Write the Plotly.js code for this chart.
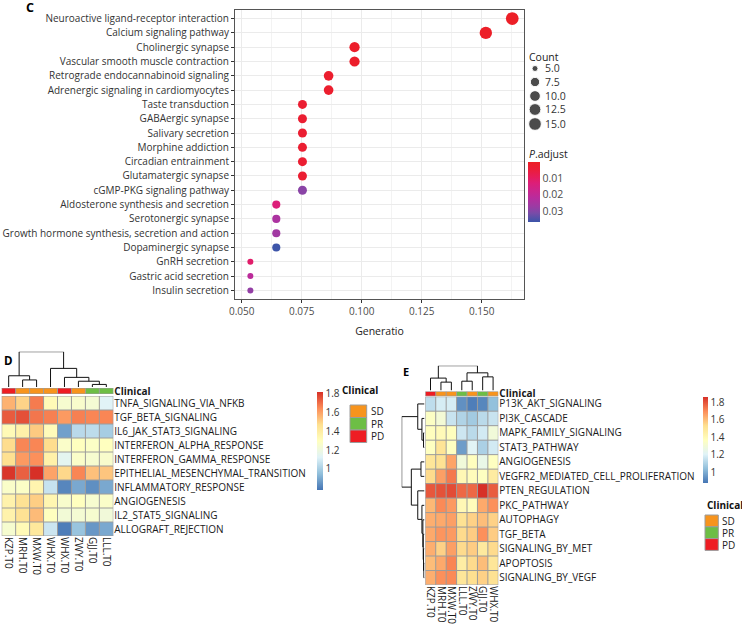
<!DOCTYPE html>
<html><head><meta charset="utf-8">
<script src="https://cdn.plot.ly/plotly-3.0.1.min.js"></script>
<style>html,body{margin:0;padding:0;background:#fff}</style>
</head><body><div id="chart" style="width:742px;height:626px"></div>
<script>
// ---------------- Panel C data ----------------
const pathways = ["Neuroactive ligand-receptor interaction","Calcium signaling pathway","Cholinergic synapse","Vascular smooth muscle contraction","Retrograde endocannabinoid signaling","Adrenergic signaling in cardiomyocytes","Taste transduction","GABAergic synapse","Salivary secretion","Morphine addiction","Circadian entrainment","Glutamatergic synapse","cGMP-PKG signaling pathway","Aldosterone synthesis and secretion","Serotonergic synapse","Growth hormone synthesis, secretion and action","Dopaminergic synapse","GnRH secretion","Gastric acid secretion","Insulin secretion"];
const geneRatio = [0.1627,0.1517,0.0970,0.0970,0.0862,0.0862,0.0753,0.0753,0.0753,0.0753,0.0753,0.0753,0.0753,0.0644,0.0644,0.0644,0.0644,0.0536,0.0536,0.0536];
const geneCount = [15,14,9,9,8,8,7,7,7,7,7,7,7,6,6,6,6,5,5,5];
const pAdjust = [0.0004,0.0006,0.0012,0.0012,0.002,0.002,0.003,0.003,0.003,0.003,0.003,0.003,0.029,0.013,0.024,0.026,0.036,0.011,0.021,0.028];
const countLegend = [5.0,7.5,10.0,12.5,15.0];
const pTicks = [0.01,0.02,0.03];
const xTicksC = [0.050,0.075,0.100,0.125,0.150];

// ---------------- Panel D data ----------------
const rowsD = ["TNFA_SIGNALING_VIA_NFKB","TGF_BETA_SIGNALING","IL6_JAK_STAT3_SIGNALING","INTERFERON_ALPHA_RESPONSE","INTERFERON_GAMMA_RESPONSE","EPITHELIAL_MESENCHYMAL_TRANSITION","INFLAMMATORY_RESPONSE","ANGIOGENESIS","IL2_STAT5_SIGNALING","ALLOGRAFT_REJECTION"];
const colsD = ["KZP.T0","MRH.T0","MXW.T0","WHX.T0","WHX.T0","ZWY.T0","GJJ.T0","LLL.T0"];
const clinicalD = ["PD","SD","SD","SD","PD","SD","PR","PR"];
const zD = [
 [1.57,1.50,1.68,1.33,1.25,1.26,1.24,1.13],
 [1.74,1.76,1.69,1.67,1.62,1.67,1.66,1.66],
 [1.33,1.38,1.52,1.32,0.88,1.04,1.05,1.00],
 [1.48,1.66,1.66,1.48,1.27,1.30,1.28,1.30],
 [1.47,1.62,1.64,1.38,1.15,1.27,1.25,1.26],
 [1.81,1.73,1.82,1.60,1.49,1.66,1.54,1.53],
 [1.27,1.28,1.36,1.07,0.82,0.90,0.84,0.90],
 [1.37,1.46,1.51,1.35,1.26,1.30,1.25,1.27],
 [1.37,1.46,1.55,1.30,1.23,1.24,1.25,1.22],
 [1.25,1.33,1.43,1.08,0.80,0.97,0.86,0.90]
];
const legendTicksD = [1,1.2,1.4,1.6,1.8];
// column dendrogram (hclust style: negative = leaf, positive = earlier merge)
const mergeColD = [[-2,-3],[-1,1],[-7,-8],[-6,3],[-5,4],[-4,5],[2,6]];
const heightColD = [22,35,8,18,30,58,110];

// ---------------- Panel E data ----------------
const rowsE = ["P13K_AKT_SIGNALING","PI3K_CASCADE","MAPK_FAMILY_SIGNALING","STAT3_PATHWAY","ANGIOGENESIS","VEGFR2_MEDIATED_CELL_PROLIFERATION","PTEN_REGULATION","PKC_PATHWAY","AUTOPHAGY","TGF_BETA","SIGNALING_BY_MET","APOPTOSIS","SIGNALING_BY_VEGF"];
const colsE = ["KZP.T0","MRH.T0","MXW.T0","LLL.T0","ZWY.T0","GJJ.T0","WHX.T0"];
const clinicalE = ["PD","SD","SD","PR","SD","PR","SD"];
const zE = [
 [1.13,1.18,1.18,0.93,0.89,0.91,1.04],
 [1.35,1.30,1.15,1.10,1.07,1.12,1.15],
 [1.37,1.39,1.37,1.16,1.12,1.17,1.29],
 [1.36,1.51,1.36,0.96,1.21,1.09,1.17],
 [1.50,1.52,1.65,1.29,1.37,1.25,1.36],
 [1.54,1.66,1.73,1.40,1.38,1.36,1.47],
 [1.79,1.80,1.81,1.76,1.76,1.86,1.78],
 [1.61,1.70,1.67,1.40,1.38,1.64,1.69],
 [1.63,1.64,1.66,1.52,1.56,1.60,1.56],
 [1.64,1.68,1.67,1.54,1.57,1.69,1.57],
 [1.63,1.56,1.66,1.54,1.57,1.48,1.54],
 [1.60,1.64,1.71,1.46,1.54,1.60,1.50],
 [1.63,1.69,1.70,1.50,1.53,1.56,1.52]
];
const legendTicksE = [1,1.2,1.4,1.6,1.8];
const mergeColE = [[-2,-3],[-1,1],[-4,-5],[-6,-7],[3,4],[2,5]];
const heightColE = [27,40,30,44,57,80];
const mergeRowE = [[-3,-4],[-2,1],[-1,2],[-12,-13],[-11,4],[-10,5],[-9,6],[-8,7],[-7,8],[-5,-6],[10,9],[3,11]];
const heightRowE = [3,8,21,2,3,4,5,8,21,11,41,71];

const clinicalLevels = ["SD","PR","PD"];
const clinicalColors = ["#F7941D","#6DBE45","#EE1D23"];

// ---------------- helpers ----------------
const W = 742, H = 626;
const px = x => x / W;
const py = y => 1 - y / H;
const FONT = "Open Sans, Noto Sans, sans-serif";
const rdylbu = [[0,"#4575B4"],[1/6,"#91BFDB"],[2/6,"#E0F3F8"],[0.5,"#FFFFBF"],[4/6,"#FEE090"],[5/6,"#FC8D59"],[1,"#D73027"]];
const padjScale = [[0,"#3B55A9"],[0.15,"#7A4BA8"],[0.25,"#9A3CA4"],[0.4,"#B82C9D"],[0.5,"#C8268F"],[0.65,"#DD1E78"],[0.75,"#E61C5A"],[0.88,"#EB1D38"],[1,"#EC1F26"]];
const sizeOf = c => 6 + 6.7 * Math.sqrt(Math.max(0, c - 5) / 10);
const idx = n => Array.from({length:n}, (_, i) => i);

function dendro(merge, heights) {
  const pos = [], hgt = [], p = [], h = [];
  const info = k => k < 0 ? [-k - 1, 0] : [pos[k - 1], hgt[k - 1]];
  merge.forEach((m, i) => {
    const [pa, ha] = info(m[0]); const [pb, hb] = info(m[1]); const hh = heights[i];
    p.push(pa, pa, pb, pb, null); h.push(ha, hh, hh, hb, null);
    pos.push((pa + pb) / 2); hgt.push(hh);
  });
  return {p, h};
}
function grid(xref, yref, nx, ny) {
  const s = [], line = {color:"#9c9c9c", width:1};
  for (let i = 0; i <= nx; i++) s.push({type:"line", xref, yref, x0:i-0.5, x1:i-0.5, y0:-0.5, y1:ny-0.5, line, layer:"above"});
  for (let j = 0; j <= ny; j++) s.push({type:"line", xref, yref, x0:-0.5, x1:nx-0.5, y0:j-0.5, y1:j-0.5, line, layer:"above"});
  return s;
}
const codeScale = [[0,clinicalColors[0]],[1/3,clinicalColors[0]],[1/3,clinicalColors[1]],[2/3,clinicalColors[1]],[2/3,clinicalColors[2]],[1,clinicalColors[2]]];

// ---------------- traces ----------------
const traces = [];
traces.push({
  type:"scatter", mode:"markers", x: geneRatio, y: pathways, xaxis:"x", yaxis:"y",
  marker:{size: geneCount.map(sizeOf), color: pAdjust.map(v => -v), colorscale: padjScale,
    cmin:-0.0362, cmax:-0.0001, line:{width:0}, opacity:1,
    showscale:true,
    colorbar:{x:px(528.3), xanchor:"left", y:py(161.7), yanchor:"top", len:60/H, lenmode:"fraction",
      thickness:11.7, thicknessmode:"pixels", xpad:0, ypad:0, outlinewidth:0,
      tickvals: pTicks.map(v => -v), ticktext: pTicks.map(v => v.toFixed(2)),
      ticks:"", tickfont:{family:FONT, size:10.5, color:"#4d4d4d"}}},
  hoverinfo:"skip"
});
traces.push({type:"heatmap", z:zD, x:idx(colsD.length), y:idx(rowsD.length), xaxis:"x2", yaxis:"y2",
  colorscale: rdylbu, zmin:0.78, zmax:1.82,
  colorbar:{x:px(316.7), xanchor:"left", y:py(391.7), yanchor:"top", len:97.6/H, lenmode:"fraction",
    thickness:6, xpad:0, ypad:0, outlinewidth:0, tickvals:legendTicksD, ticktext:legendTicksD.map(String),
    ticks:"", tickfont:{family:FONT, size:10, color:"#333"}}});
traces.push({type:"heatmap", z:[clinicalD.map(c => clinicalLevels.indexOf(c))], x:idx(colsD.length), y:[0],
  xaxis:"x2", yaxis:"y3", colorscale:codeScale, zmin:0, zmax:2, showscale:false});
const dD = dendro(mergeColD, heightColD);
traces.push({type:"scatter", mode:"lines", x:dD.p, y:dD.h, xaxis:"x2", yaxis:"y4", line:{color:"#111", width:1}, hoverinfo:"skip"});
traces.push({type:"heatmap", z:zE, x:idx(colsE.length), y:idx(rowsE.length), xaxis:"x3", yaxis:"y5",
  colorscale: rdylbu, zmin:0.87, zmax:1.86,
  colorbar:{x:px(703.3), xanchor:"left", y:py(397.3), yanchor:"top", len:86/H, lenmode:"fraction",
    thickness:5, xpad:0, ypad:0, outlinewidth:0, tickvals:legendTicksE, ticktext:legendTicksE.map(String),
    ticks:"", tickfont:{family:FONT, size:10, color:"#333"}}});
traces.push({type:"heatmap", z:[clinicalE.map(c => clinicalLevels.indexOf(c))], x:idx(colsE.length), y:[0],
  xaxis:"x3", yaxis:"y6", colorscale:codeScale, zmin:0, zmax:2, showscale:false});
const dEc = dendro(mergeColE, heightColE);
traces.push({type:"scatter", mode:"lines", x:dEc.p, y:dEc.h, xaxis:"x3", yaxis:"y7", line:{color:"#111", width:1}, hoverinfo:"skip"});
const dEr = dendro(mergeRowE, heightRowE);
traces.push({type:"scatter", mode:"lines", x:dEr.h, y:dEr.p, xaxis:"x4", yaxis:"y5", line:{color:"#111", width:1}, hoverinfo:"skip"});
const countY = [68.5,82,96,109.5,124];
traces.push({type:"scatter", mode:"markers", x:countLegend.map(() => 535), y:countY, xaxis:"x5", yaxis:"y8",
  marker:{size:countLegend.map(sizeOf), color:"#000"}, hoverinfo:"skip"});

// ---------------- layout ----------------
const hid = {visible:false, fixedrange:true};
const tickFontC = {family:FONT, size:10, color:"#4d4d4d"};
const hmFont = {family:FONT, size:10, color:"#1a1a1a"};
const shapes = [];
shapes.push(...grid("x2","y2",colsD.length,rowsD.length));
shapes.push(...grid("x2","y3",colsD.length,1));
shapes.push(...grid("x3","y5",colsE.length,rowsE.length));
shapes.push(...grid("x3","y6",colsE.length,1));
function clinBoxes(x0, x1, ys) {
  clinicalLevels.forEach((lv, i) => shapes.push({type:"rect", xref:"paper", yref:"paper",
    x0:px(x0), x1:px(x1), y0:py(ys[i+1]), y1:py(ys[i]), fillcolor:clinicalColors[i], line:{color:"#9c9c9c", width:1}}));
}
clinBoxes(350, 366.7, [405,417.5,430,442.5]);
clinBoxes(705, 718.3, [515,526.8,538.6,550.4]);

const ann = [];
const A = (text, x, y, opts={}) => ann.push(Object.assign({text, x:px(x), y:py(y), xref:"paper", yref:"paper",
  showarrow:false, xanchor:"left", yanchor:"middle", font:{family:FONT, size:10, color:"#222"}}, opts));
A("<b>C</b>", 24, 8, {font:{family:FONT, size:12.5, color:"#000"}});
A("<b>D</b>", 2, 360.5, {font:{family:FONT, size:11.5, color:"#000"}});
A("<b>E</b>", 400.5, 372, {font:{family:FONT, size:11, color:"#000"}});
A("Count", 527, 56.5, {font:{family:FONT, size:10.5, color:"#222"}});
countLegend.forEach((v, i) => A(v.toFixed(1), 543, countY[i], {font:{family:FONT, size:10.5, color:"#333"}}));
A("<i>P</i>.adjust", 527, 154, {font:{family:FONT, size:10.5, color:"#222"}});
A("<b>Clinical</b>", 340, 390, {font:{family:FONT, size:10, color:"#111"}});
clinicalLevels.forEach((lv, i) => A(lv, 368.5, 411 + i*12.5, {font:{family:FONT, size:10, color:"#222"}}));
A("<b>Clinical</b>", 704.5, 505, {font:{family:FONT, size:10, color:"#111"}});
clinicalLevels.forEach((lv, i) => A(lv, 719.5, 521 + i*11.8, {font:{family:FONT, size:10, color:"#222"}}));

const layout = {
  width:W, height:H, margin:{l:0,r:0,t:0,b:0}, paper_bgcolor:"#fff", plot_bgcolor:"rgba(0,0,0,0)",
  showlegend:false, font:{family:FONT},
  xaxis:{domain:[px(235), px(524)], range:[0.0472, 0.1676], tickvals:xTicksC, ticktext:xTicksC.map(v => v.toFixed(3)),
    showgrid:true, gridcolor:"#EBEBEB", gridwidth:1, zeroline:false,
    minor:{dtick:0.0125, tick0:0.05, showgrid:true, gridcolor:"#F3F3F3", gridwidth:1, ticks:""},
    showline:true, mirror:true, linecolor:"#555", linewidth:1, ticks:"outside", ticklen:3, tickcolor:"#333",
    tickfont:tickFontC, anchor:"y",
    title:{text:"Generatio", font:{family:FONT, size:10.5, color:"#222"}, standoff:10}},
  yaxis:{domain:[py(299), py(10)], type:"category", categoryorder:"array", categoryarray:pathways,
    range:[pathways.length - 1 + 0.6, -0.6], showgrid:true, gridcolor:"#EBEBEB", zeroline:false,
    showline:true, mirror:true, linecolor:"#555", linewidth:1, ticks:"outside", ticklen:3, tickcolor:"#333",
    tickfont:{family:FONT, size:10, color:"#333"}, anchor:"x"},
  xaxis2:{domain:[px(1.7), px(113.3)], range:[-0.5, colsD.length - 0.5], tickvals:idx(colsD.length), ticktext:colsD,
    tickangle:90, showgrid:false, zeroline:false, ticks:"", tickfont:hmFont, anchor:"y2", fixedrange:true},
  yaxis2:{domain:[py(536), py(396)], range:[rowsD.length - 0.5, -0.5], tickvals:idx(rowsD.length), ticktext:rowsD,
    side:"right", showgrid:false, zeroline:false, ticks:"", tickfont:hmFont, anchor:"x2", fixedrange:true},
  yaxis3:{domain:[py(394), py(388)], range:[-0.5,0.5], tickvals:[0], ticktext:["<b>Clinical</b>"], side:"right",
    showgrid:false, zeroline:false, ticks:"", tickfont:hmFont, anchor:"x2", fixedrange:true},
  yaxis4:Object.assign({domain:[py(387), py(351.7)], range:[0, heightColD[heightColD.length-1]], anchor:"x2"}, hid),
  xaxis3:{domain:[px(425.3), px(498.3)], range:[-0.5, colsE.length - 0.5], tickvals:idx(colsE.length), ticktext:colsE,
    tickangle:90, showgrid:false, zeroline:false, ticks:"", tickfont:hmFont, anchor:"y5", fixedrange:true},
  yaxis5:{domain:[py(585), py(396.7)], range:[rowsE.length - 0.5, -0.5], tickvals:idx(rowsE.length), ticktext:rowsE,
    side:"right", showgrid:false, zeroline:false, ticks:"", tickfont:hmFont, anchor:"x3", fixedrange:true},
  yaxis6:{domain:[py(396.2), py(391.5)], range:[-0.5,0.5], tickvals:[0], ticktext:["<b>Clinical</b>"], side:"right",
    showgrid:false, zeroline:false, ticks:"", tickfont:hmFont, anchor:"x3", fixedrange:true},
  yaxis7:Object.assign({domain:[py(390.5), py(365.7)], range:[0, heightColE[heightColE.length-1]], anchor:"x3"}, hid),
  xaxis4:Object.assign({domain:[px(401.7), px(424.5)], range:[heightRowE[heightRowE.length-1], 0], anchor:"y5"}, hid),
  xaxis5:Object.assign({domain:[0,1], range:[0,W], anchor:"y8"}, hid),
  yaxis8:Object.assign({domain:[0,1], range:[H,0], anchor:"x5"}, hid),
  shapes, annotations:ann
};
Plotly.newPlot("chart", traces, layout, {displayModeBar:false, staticPlot:true});
</script></body></html>
